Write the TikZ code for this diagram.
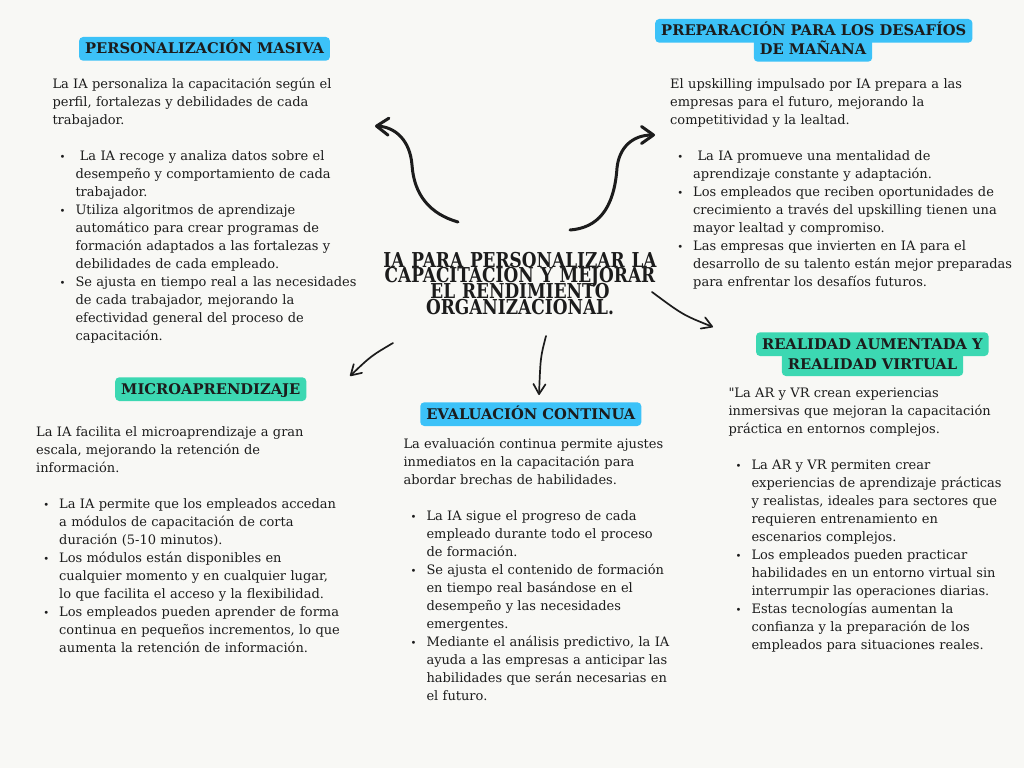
\documentclass[tikz,border=0pt]{standalone}
\usepackage{fontspec}
\setmainfont{DejaVu Serif}
\newfontfamily\titlefont{DejaVu Serif}[FakeStretch=0.826]
\newfontfamily\rectafont{DejaVu Serif}[Ligatures=TeXOff]
\usetikzlibrary{arrows.meta,positioning}
\definecolor{fondo}{RGB}{248,248,245}
\definecolor{azul}{RGB}{60,194,248}
\definecolor{verde}{RGB}{60,216,178}
\definecolor{tinta}{RGB}{28,28,28}
\newcommand\bul{\makebox[0pt]{\fontsize{10}{10}\selectfont\textbullet}}
\newcommand\itm{\par\leftskip=23pt\leavevmode\llap{\bul\hspace{13pt}}}

\begin{document}
\begin{tikzpicture}[x=1pt,y=-1pt,
  encabezado/.style={fill=#1,rounded corners=4pt,anchor=base,inner xsep=6pt,inner ysep=6.3pt,
    text height=10.7pt,text depth=0.4pt,text=tinta,font=\bfseries\fontsize{14.7}{17}\selectfont},
  cuerpo/.style={anchor=north west,inner sep=0pt,text width=360pt,align=left,text=tinta,
    font=\fontsize{13}{18}\selectfont,execute at begin node=\strut},
  flecha/.style={draw=tinta,line width=3pt,line cap=round,-{Straight Barb[round,length=12pt,width=17pt]}},
  flechita/.style={draw=tinta,line width=1.7pt,line cap=round,-{Straight Barb[round,length=10pt,width=12pt]}}]
\fill[fondo] (0,0) rectangle (1024,768);
\useasboundingbox (0,0) rectangle (1024,768);

\node[anchor=north,inner sep=0pt,text width=300pt,align=center,text=tinta,
  font=\titlefont\bfseries\fontsize{20.5}{15.7}\selectfont] (titulo) at (520,251.8)
 {\lineskiplimit=-50pt\relax IA PARA PERSONALIZAR LA\\CAPACITACIÓN Y MEJORAR\\EL RENDIMIENTO\\ORGANIZACIONAL.\par};

\node[encabezado=azul] (hPers) at (204.5,54) {PERSONALIZACIÓN MASIVA};
\node[encabezado=azul] (hPrep1) at (813.8,36) {PREPARACIÓN PARA LOS DESAFÍOS};
\node[encabezado=azul] (hPrep2) at (813,55) {DE MAÑANA};
\node[encabezado=verde] (hMicro) at (210.8,394.3) {MICROAPRENDIZAJE};
\node[encabezado=azul] (hEval) at (530.8,419.3) {EVALUACIÓN CONTINUA};
\node[encabezado=verde] (hReal1) at (872.3,349.3) {REALIDAD AUMENTADA Y};
\node[encabezado=verde] (hReal2) at (872.5,369.3) {REALIDAD VIRTUAL};

\node[cuerpo] (tPers) at (52.3,75.4)
 {La IA personaliza la capacitación según el\\perfil, fortalezas y debilidades de cada\\trabajador.\par\vspace{18pt}
  \itm\ La IA recoge y analiza datos sobre el\\desempeño y comportamiento de cada\\trabajador.
  \itm Utiliza algoritmos de aprendizaje\\automático para crear programas de\\formación adaptados a las fortalezas y\\debilidades de cada empleado.
  \itm Se ajusta en tiempo real a las necesidades\\de cada trabajador, mejorando la\\efectividad general del proceso de\\capacitación.\par};
\node[cuerpo] (tPrep) at (670,75.4)
 {El upskilling impulsado por IA prepara a las\\empresas para el futuro, mejorando la\\competitividad y la lealtad.\par\vspace{18pt}
  \itm\ La IA promueve una mentalidad de\\aprendizaje constante y adaptación.
  \itm Los empleados que reciben oportunidades de\\crecimiento a través del upskilling tienen una\\mayor lealtad y compromiso.
  \itm Las empresas que invierten en IA para el\\desarrollo de su talento están mejor preparadas\\para enfrentar los desafíos futuros.\par};
\node[cuerpo] (tMicro) at (36,423.4)
 {La IA facilita el microaprendizaje a gran\\escala, mejorando la retención de\\información.\par\vspace{18pt}
  \itm La IA permite que los empleados accedan\\a módulos de capacitación de corta\\duración (5-10 minutos).
  \itm Los módulos están disponibles en\\cualquier momento y en cualquier lugar,\\lo que facilita el acceso y la flexibilidad.
  \itm Los empleados pueden aprender de forma\\continua en pequeños incrementos, lo que\\aumenta la retención de información.\par};
\node[cuerpo] (tEval) at (403.3,435.7)
 {La evaluación continua permite ajustes\\inmediatos en la capacitación para\\abordar brechas de habilidades.\par\vspace{18pt}
  \itm La IA sigue el progreso de cada\\empleado durante todo el proceso\\de formación.
  \itm Se ajusta el contenido de formación\\en tiempo real basándose en el\\desempeño y las necesidades\\emergentes.
  \itm Mediante el análisis predictivo, la IA\\ayuda a las empresas a anticipar las\\habilidades que serán necesarias en\\el futuro.\par};
\node[cuerpo] (tReal) at (728.3,384.4)
 {{\rectafont"}La AR y VR crean experiencias\\inmersivas que mejoran la capacitación\\práctica en entornos complejos.\par\vspace{18pt}
  \itm La AR y VR permiten crear\\experiencias de aprendizaje prácticas\\y realistas, ideales para sectores que\\requieren entrenamiento en\\escenarios complejos.
  \itm Los empleados pueden practicar\\habilidades en un entorno virtual sin\\interrumpir las operaciones diarias.
  \itm Estas tecnologías aumentan la\\confianza y la preparación de los\\empleados para situaciones reales.\par};

\coordinate (pPersA) at (458,222);
\coordinate (pPersB) at (375,126);
\coordinate (pPrepA) at (570,230);
\coordinate (pPrepB) at (655,135);
\coordinate (pMicroA) at (393,343);
\coordinate (pMicroB) at (350,376);
\coordinate (pEvalA) at (546,336);
\coordinate (pEvalB) at (539,395);
\coordinate (pRealA) at (652,292);
\coordinate (pRealB) at (713,327);
\draw[flecha] (pPersA) .. controls (430,214) and (414,195) .. (412,165) .. controls (410,140) and (395,127) .. (pPersB);
\draw[flecha] (pPrepA) .. controls (597,228) and (614,210) .. (617,168) .. controls (619,148) and (632,135) .. (pPrepB);
\draw[flechita] (pMicroA) .. controls (371,356) .. (pMicroB);
\draw[flechita] (pEvalA) .. controls (540.5,357) .. (pEvalB);
\draw[flechita] (pRealA) .. controls (683,315) .. (pRealB);
\end{tikzpicture}
\end{document}
